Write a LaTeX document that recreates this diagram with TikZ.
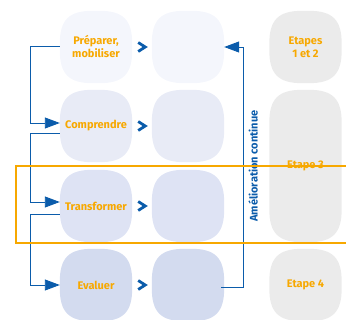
\documentclass[tikz,border=0pt]{standalone}
\usepackage{fontspec}
\setmainfont{Fira Sans}
\usetikzlibrary{arrows.meta,backgrounds}
\definecolor{rowa}{HTML}{F4F6FC}
\definecolor{rowb}{HTML}{E8EBF6}
\definecolor{rowc}{HTML}{DEE3F4}
\definecolor{rowd}{HTML}{D3DBEF}
\definecolor{greybox}{HTML}{EBEBEB}
\definecolor{orng}{HTML}{F7A800}
\definecolor{blu}{HTML}{0B5CAB}
\tikzset{
  x=1pt,y=-1pt,
  sq/.style={minimum width=72pt, minimum height=72pt, inner sep=0pt,
    font=\bfseries\fontsize{11}{13}\selectfont, text=orng, align=center},
  conn/.style={draw=blu, line width=0.9pt},
  tip/.style={-{Triangle[length=15pt,width=11pt]}},
  chev/.style={draw=blu, line width=2.8pt, line cap=butt, line join=miter},
}
\newcommand\sqfill[2]{%
 \fill[#2] ([yshift=-33pt]#1.north west) .. controls ([yshift=-9pt]#1.north west) and ([xshift=9pt]#1.north west) .. ([xshift=33pt]#1.north west)
 -- ([xshift=-33pt]#1.north east) .. controls ([xshift=-9pt]#1.north east) and ([yshift=-9pt]#1.north east) .. ([yshift=-33pt]#1.north east)
 -- ([yshift=33pt]#1.south east) .. controls ([yshift=9pt]#1.south east) and ([xshift=-9pt]#1.south east) .. ([xshift=-33pt]#1.south east)
 -- ([xshift=33pt]#1.south west) .. controls ([xshift=9pt]#1.south west) and ([yshift=9pt]#1.south west) .. ([yshift=33pt]#1.south west) -- cycle;}
\begin{document}
\begin{tikzpicture}
\useasboundingbox (0,0) rectangle (346,320);
% column 1
\node[sq] (p1) at (96,47) {Préparer,\\mobiliser};
\node[sq] (c1) at (96,126) {Comprendre};
\node[sq] (t1) at (96,206) {Transformer};
\node[sq] (e1) at (96,285) {Evaluer};
% column 2
\node[sq] (p2) at (188,47) {};
\node[sq] (c2) at (188,126) {};
\node[sq] (t2) at (188,206) {};
\node[sq] (e2) at (188,285) {};
% column 3
\node[sq] (s12) at (305.5,47) {Etapes\\1 et 2};
\node[sq, minimum height=152pt] (s3) at (305.5,166) {Etape 3};
\node[sq] (s4) at (305.5,285) {Etape 4};
\begin{pgfonlayer}{background}
\sqfill{p1}{rowa}\sqfill{p2}{rowa}
\sqfill{c1}{rowb}\sqfill{c2}{rowb}
\sqfill{t1}{rowc}\sqfill{t2}{rowc}
\sqfill{e1}{rowd}\sqfill{e2}{rowd}
\sqfill{s12}{greybox}\sqfill{s3}{greybox}\sqfill{s4}{greybox}
\end{pgfonlayer}
% chevrons
\foreach \r in {p,c,t,e}{
  \draw[chev] ([xshift=6pt,yshift=4.5pt]\r1.east) -- ([xshift=13pt]\r1.east) -- ([xshift=6pt,yshift=-4.5pt]\r1.east);
}
% left connectors
\draw[conn,tip] ([yshift=1pt]p1.west) -- ++(-29,0) |- ([yshift=3pt]c1.west);
\draw[conn,tip] ([yshift=-7pt]c1.west) -- ++(-29,0) |- ([yshift=4pt]t1.west);
\draw[conn,tip] ([yshift=-8pt]t1.west) -- ++(-29,0) |- (e1.west);
% right loop
\draw[conn,tip] ([xshift=-3pt,yshift=-2pt]e2.east) -- ++(22,0) |- (p2.east);
\node[rotate=90, font=\bfseries\fontsize{11}{13}\selectfont, text=blu] (lab) at (253,166) {Amélioration continue};
% orange frame
\draw[orng, line width=2.6pt] (16,166) rectangle (352,243);
\end{tikzpicture}
\end{document}
